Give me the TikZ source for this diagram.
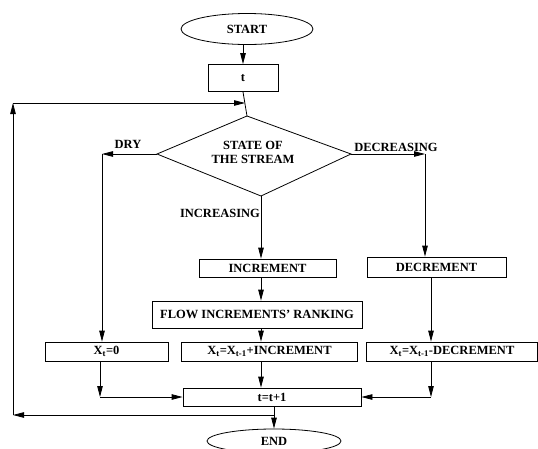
\documentclass[tikz,border=0pt]{standalone}
\usepackage{fontspec}
\setmainfont{Liberation Serif}
\usetikzlibrary{arrows.meta,shapes.geometric}
\begin{document}
\begin{tikzpicture}[x=1pt,y=-1pt,
  every node/.style={font=\fontsize{12.5}{14}\selectfont\bfseries},
  box/.style={draw,line width=0.8pt,inner sep=0pt},
  oval/.style={draw,ellipse,line width=0.8pt,inner sep=0pt},
  arr/.style={-{Triangle[length=11pt,width=5.5pt]},line width=0.8pt},
  ln/.style={line width=0.8pt},
  lbl/.style={inner sep=0pt}]
\useasboundingbox (0,0) rectangle (538,448);
\clip (0,0) rectangle (538,448);
% nodes
\node[oval,minimum width=132,minimum height=31] (start) at (247,29) {START};
\node[box,minimum width=70,minimum height=27] (t) at (243,78) {t};
\coordinate (dT) at (247,116);
\coordinate (dL) at (157,154);
\coordinate (dR) at (351,154);
\coordinate (dB) at (261,196);
\draw[ln] (dT) -- (dR) -- (dB) -- (dL) -- cycle;
\node[align=center,inner sep=0pt] (state) at (253,152) {STATE OF\\THE STREAM};
\node[box,minimum width=137,minimum height=18] (inc) at (267.5,268) {INCREMENT};
\node[box,minimum width=139,minimum height=20] (dec) at (436.5,267) {DECREMENT};
\node[box,minimum width=210,minimum height=27] (flow) at (257,314.5) {FLOW INCREMENTS' RANKING};
\node[box,minimum width=123,minimum height=19] (x0) at (106.5,351.5) {X\textsubscript{t}=0};
\node[box,minimum width=176,minimum height=19] (mid) at (269.5,351.5) {X\textsubscript{t}=X\textsubscript{t-1}+INCREMENT};
\node[box,minimum width=171,minimum height=19] (xr) at (452,351.5) {X\textsubscript{t}=X\textsubscript{t-1}-DECREMENT};
\node[box,minimum width=178,minimum height=18] (tt) at (272,397) {t=t+1};
\node[oval,minimum width=134,minimum height=24] (end) at (274,441) {END};
% labels
\node[lbl] (dry) at (128,144) {DRY};
\node[lbl] (decl) at (396,147) {DECREASING};
\node[lbl] (incl) at (220,213) {INCREASING};
% helper coordinates
\coordinate (J) at (245,103);
\coordinate (dryc) at (102,154);
\coordinate (decc) at (425,154);
\coordinate (lc) at (100,397);
\coordinate (rc) at (431,397);
\coordinate (bc) at (274,415);
\coordinate (lb) at (13,415);
\coordinate (lt) at (13,103);
% connectors
\draw[arr] (t.north |- start.south) -- (t.north);
\draw[ln] (t.south) -- (dT);
\draw[arr] (dL) -- (dryc);
\draw[arr] (dryc) -- (dryc |- x0.north);
\draw[arr] (dR) -- (decc);
\draw[arr] (decc) -- (decc |- dec.north);
\draw[arr] (dB) -- (dB |- inc.north);
\draw[arr] (dB |- inc.south) -- (dB |- flow.north);
\draw[arr] (dB |- flow.south) -- (dB |- mid.north);
\draw[arr] (dB |- mid.south) -- (dB |- tt.north);
\draw[arr] (rc |- dec.south) -- (rc |- xr.north);
\draw[arr] (lc |- x0.south) -- (lc);
\draw[arr] (lc) -- (tt.west);
\draw[arr] (rc |- xr.south) -- (rc);
\draw[arr] (rc) -- (tt.east);
\draw[arr] (end.north |- tt.south) -- (end.north);
\draw[arr] (bc) -- (lb);
\draw[arr] (lb) -- (lt);
\draw[arr] (lt) -- (J);
\end{tikzpicture}
\end{document}
